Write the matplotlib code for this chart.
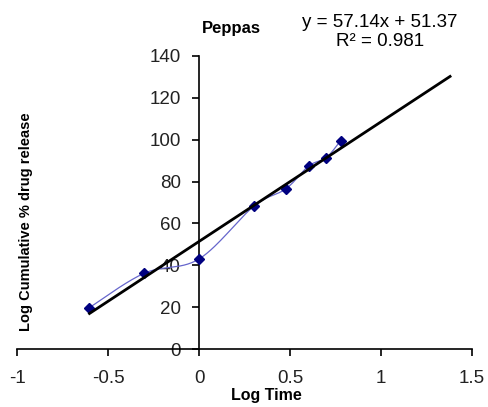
import matplotlib
matplotlib.use('Agg')
import matplotlib.pyplot as plt
import numpy as np

plt.rcParams['font.family'] = ['Liberation Sans', 'DejaVu Sans']

# data
log_time = [-0.602, -0.301, 0.0, 0.301, 0.477, 0.602, 0.699, 0.778]
log_release = [19.8, 36.2, 43.0, 68.2, 76.5, 87.4, 91.4, 99.5]
slope, intercept = 57.14, 51.37
trend_end = 1.38


def smooth(xs, ys, n=30):
    # catmull-rom curve like excel "smoothed line"
    x = np.array(xs); y = np.array(ys)
    px = np.concatenate([[x[0]], x, [x[-1]]])
    py = np.concatenate([[y[0]], y, [y[-1]]])
    ox, oy = [], []
    for i in range(1, len(px) - 2):
        t = np.linspace(0, 1, n)
        for arr, out in ((px, ox), (py, oy)):
            p0, p1, p2, p3 = arr[i - 1], arr[i], arr[i + 1], arr[i + 2]
            out.extend(0.5 * ((2 * p1) + (-p0 + p2) * t
                              + (2 * p0 - 5 * p1 + 4 * p2 - p3) * t ** 2
                              + (-p0 + 3 * p1 - 3 * p2 + p3) * t ** 3))
    return ox, oy


fig = plt.figure(figsize=(4.88, 4.07), dpi=100)
ax = fig.add_axes([0.035, 0.1425, 0.932, 0.72])

sx, sy = smooth(log_time, log_release)
ax.plot(sx, sy, color='#6666cc', lw=0.9, zorder=2)
ax.plot(log_time, log_release, ls='none', marker='D', ms=5.5, color='#000080', zorder=3)

tx = np.array([log_time[0], trend_end])
ax.plot(tx, slope * tx + intercept, color='black', lw=2, zorder=4)

ax.set_xlim(-1, 1.5)
ax.set_ylim(0, 140)
ax.set_xticks([-1, -0.5, 0, 0.5, 1, 1.5])
ax.set_xticklabels(['-1', '-0.5', '0', '0.5', '1', '1.5'])
ax.set_yticks(range(0, 141, 20))

ax.spines['left'].set_position(('data', 0))
ax.spines['bottom'].set_position(('data', 0))
ax.spines['top'].set_visible(False)
ax.spines['right'].set_visible(False)
for s in ('left', 'bottom'):
    ax.spines[s].set_linewidth(1.2)
ax.tick_params(axis='both', direction='out', length=5, width=1.2, labelsize=13.5,
               labelcolor='#222222')
ax.tick_params(axis='x', pad=10)
ax.tick_params(axis='y', pad=8)

fig.text(0.475, 0.93, 'Peppas', ha='center', va='center', fontsize=12, fontweight='bold')
fig.text(0.779, 0.922, 'y = 57.14x + 51.37\nR² = 0.981', ha='center', va='center',
         fontsize=13.5, linespacing=1.15)
fig.text(0.545, 0.029, 'Log Time', ha='center', va='center', fontsize=11.5, fontweight='bold')
fig.text(0.053, 0.455, 'Log Cumulative % drug release', ha='center', va='center',
         rotation=90, fontsize=10.5, fontweight='bold')

fig.savefig('out.png', dpi=100)
